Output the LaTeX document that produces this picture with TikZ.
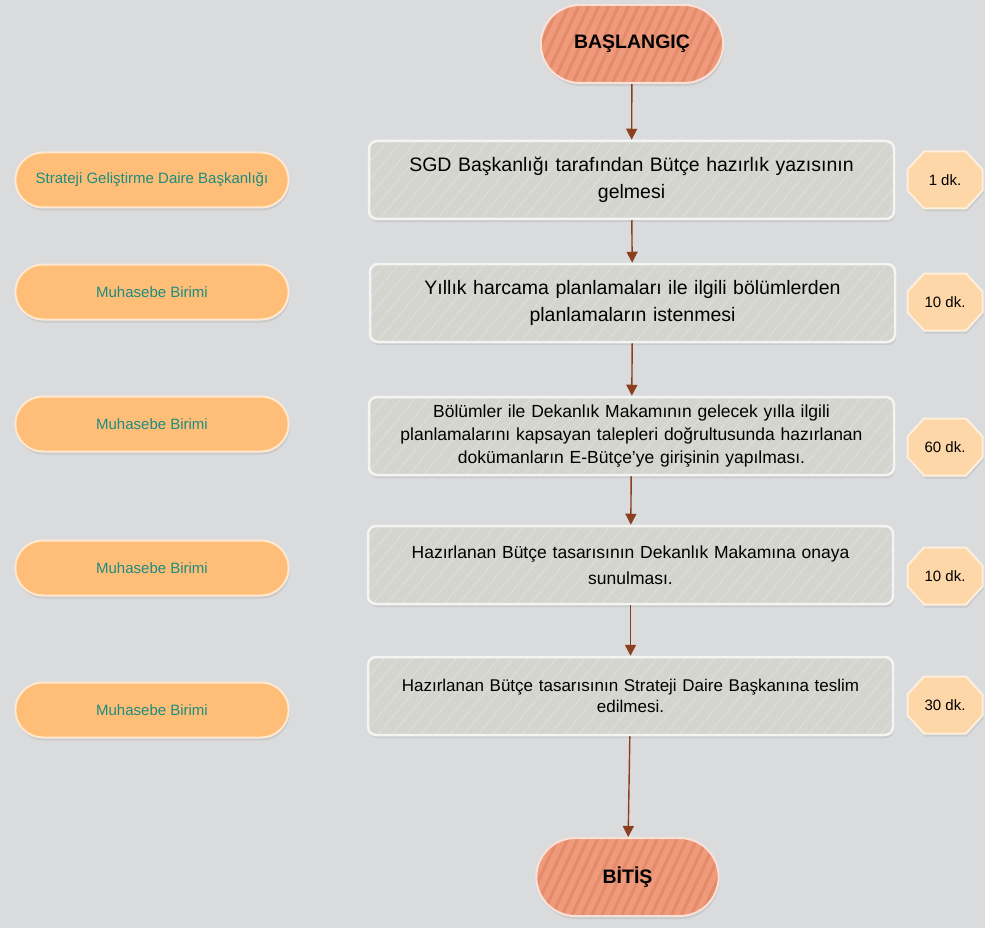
\documentclass[tikz,border=0pt]{standalone}
\usepackage{fontspec}
\setmainfont{Liberation Sans}
\usetikzlibrary{shapes.misc}
\usetikzlibrary{patterns.meta}
\usetikzlibrary{shadows}
\usetikzlibrary{arrows.meta}
\definecolor{bgcol}{HTML}{DADBDD}
\definecolor{termfill}{HTML}{EE9A7B}
\definecolor{termline}{HTML}{E38B6B}
\definecolor{stepfill}{HTML}{D4D5CF}
\definecolor{stepline}{HTML}{DFE0DB}
\definecolor{unitfill}{HTML}{FFBE78}
\definecolor{unittext}{HTML}{1E8C7E}
\definecolor{timefill}{HTML}{FDD7A7}
\definecolor{flowcol}{HTML}{8B3F1E}
\tikzset{shade/.style={drop shadow={opacity=0.18, shadow xshift=1pt, shadow yshift=-3pt}}}
\tikzset{term/.style={rounded rectangle, shade, draw=white!70!termfill, line width=2pt,
   preaction={fill=termfill},
   preaction={pattern={Lines[angle=65,distance=9pt,line width=3pt]}, pattern color=termline},
   minimum width=189pt, minimum height=78pt,
   font=\bfseries\fontsize{19.5}{23}\selectfont
}}
\tikzset{stepbox/.style={rectangle, rounded corners=8pt, shade, draw=white!75!stepfill, line width=2.5pt,
   preaction={fill=stepfill},
   preaction={pattern={Lines[angle=50,distance=11pt,line width=0.8pt]}, pattern color=stepline},
   minimum width=525pt, minimum height=78pt, text width=505pt, align=center
}}
\tikzset{unit/.style={rounded rectangle, shade, fill=unitfill, draw=white!65!unitfill, line width=2pt,
   minimum width=280pt, minimum height=55pt, text=unittext,
   font=\fontsize{15}{18}\selectfont
}}
\tikzset{timeoct/.style={shade, fill=timefill, draw=white!60!timefill, line width=2pt}}
\tikzset{timetext/.style={inner sep=0pt, font=\fontsize{15}{18}\selectfont}}
\tikzset{flow/.style={draw=flowcol, line width=1.4pt, -{Triangle[width=11pt,length=11pt]}}}
\newcommand{\dkbox}[3]{%
  \draw[timeoct, shift={(#2)}] (-21,-28.5) -- (21,-28.5) -- (37.5,-10.5) -- (37.5,10.5)
     -- (21,28.5) -- (-21,28.5) -- (-37.5,10.5) -- (-37.5,-10.5) -- cycle;
  \node[timetext] (#1) at (#2) {#3};
}

\begin{document}
\begin{tikzpicture}[x=1pt,y=-1pt]

  \fill[bgcol] (0,0) rectangle (985,928);
  \useasboundingbox (0,0) rectangle (985,928);

  \node[term] (start) at (632,44) {BAŞLANGIÇ};

  \node[stepbox, font=\fontsize{19.5}{27}\selectfont] (s1) at (631.5,180)
    {SGD Başkanlığı tarafından Bütçe hazırlık yazısının\\gelmesi};
  \node[stepbox, font=\fontsize{19.5}{27}\selectfont] (s2) at (632.5,303)
    {Yıllık harcama planlamaları ile ilgili bölümlerden\\planlamaların istenmesi};
  \node[stepbox, font=\fontsize{17.5}{23}\selectfont] (s3) at (631.5,436)
    {Bölümler ile Dekanlık Makamının gelecek yılla ilgili\\planlamalarını kapsayan talepleri doğrultusunda hazırlanan\\dokümanların E-Bütçe’ye girişinin yapılması.};
  \node[stepbox, font=\fontsize{17.5}{26}\selectfont] (s4) at (630.5,565)
    {Hazırlanan Bütçe tasarısının Dekanlık Makamına onaya\\sunulması.};
  \node[stepbox, font=\fontsize{17}{21}\selectfont] (s5) at (630.5,696)
    {Hazırlanan Bütçe tasarısının Strateji Daire Başkanına teslim\\edilmesi.};

  \node[term] (end) at (627.5,877) {BİTİŞ};

  \node[unit] (u1) at (152,180) {Strateji Geliştirme Daire Başkanlığı};
  \node[unit] (u2) at (152,292) {Muhasebe Birimi};
  \node[unit] (u3) at (152,424) {Muhasebe Birimi};
  \node[unit] (u4) at (152,568) {Muhasebe Birimi};
  \node[unit] (u5) at (152,710) {Muhasebe Birimi};

  \dkbox{t1}{945,180}{1 dk.}
  \dkbox{t2}{945,302}{10 dk.}
  \dkbox{t3}{945,447}{60 dk.}
  \dkbox{t4}{945,576}{10 dk.}
  \dkbox{t5}{945,705}{30 dk.}

  \draw[flow] (start) -- (s1);
  \draw[flow] (s1) -- (s2);
  \draw[flow] (s2) -- (s3);
  \draw[flow] (s3) -- (s4);
  \draw[flow] (s4) -- (s5);
  \draw[flow] (s5) -- (end);

\end{tikzpicture}
\end{document}
